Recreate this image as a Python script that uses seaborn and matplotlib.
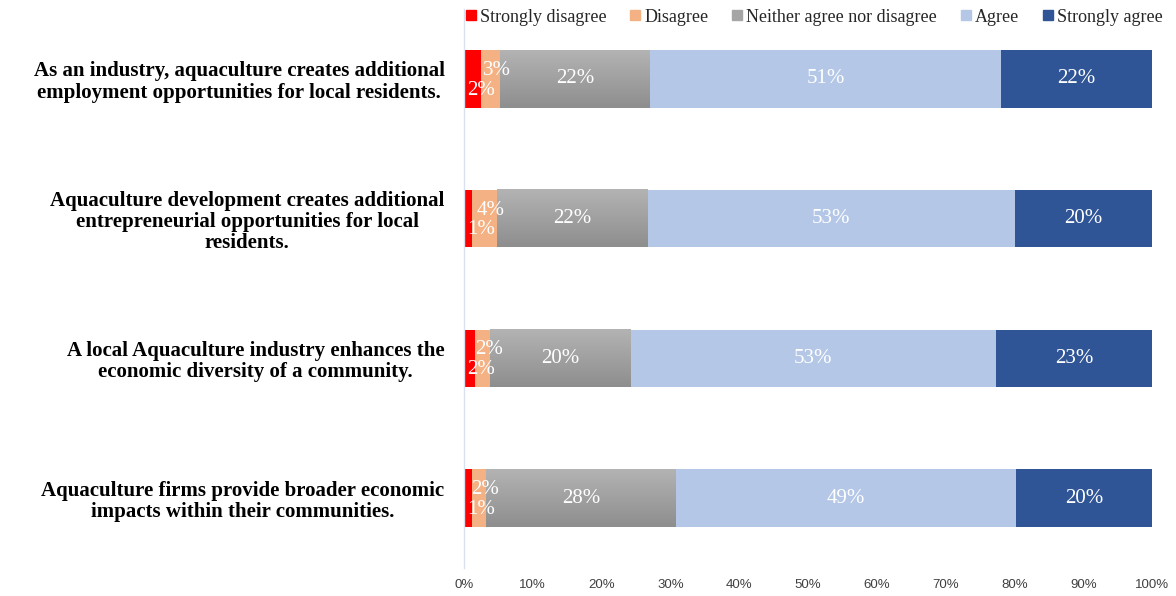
import numpy as np
import pandas as pd
import seaborn as sns
import matplotlib.pyplot as plt
from matplotlib.colors import LinearSegmentedColormap
from matplotlib.lines import Line2D

statements = [
    "As an industry, aquaculture creates additional\nemployment opportunities for local residents.",
    "Aquaculture development creates additional\nentrepreneurial opportunities for local\nresidents.",
    "A local Aquaculture industry enhances the\neconomic diversity of a community.",
    "Aquaculture firms provide broader economic\nimpacts within their communities.",
]
levels = ["Strongly disagree", "Disagree", "Neither agree nor disagree", "Agree", "Strongly agree"]

strongly_disagree = [2.4, 1.2, 1.6, 1.2]
disagree = [2.9, 3.6, 2.2, 2.0]
neither = [21.8, 21.9, 20.4, 27.6]
agree = [51.0, 53.4, 53.1, 49.4]
strongly_agree = [21.9, 19.9, 22.7, 19.8]

x_ticks = [0, 10, 20, 30, 40, 50, 60, 70, 80, 90, 100]

colors = ["#FF0000", "#F4B183", "#A5A5A5", "#B4C7E7", "#2F5597"]

values = np.array([strongly_disagree, disagree, neither, agree, strongly_agree]).T
cum = np.cumsum(values, axis=1)
starts = cum - values

sns.set_theme(style="white")
plt.rcParams["font.family"] = ["Liberation Serif", "DejaVu Serif"]

fig = plt.figure(figsize=(11.76, 5.96), dpi=100)
ax = fig.add_axes([464 / 1176, 1 - 568 / 596, (1152 - 464) / 1176, (568 - 9) / 596])

bar_w = 0.41
gray_patches = []
# Stacked bars: draw running totals from the widest down so each level shows its own segment
for i in reversed(range(5)):
    n0 = len(ax.patches)
    df = pd.DataFrame({"statement": statements, "total": cum[:, i]})
    sns.barplot(data=df, x="total", y="statement", color=colors[i], orient="h",
                width=bar_w, saturation=1, ax=ax, linewidth=0)
    if i == 2:
        gray_patches = ax.patches[n0:]

# Vertical shading on the neutral segment
shade = LinearSegmentedColormap.from_list("shade", ["#B3B3B3", "#8E8E8E"])
grad = np.linspace(0, 1, 64).reshape(-1, 1)
for k, p in enumerate(gray_patches):
    yc = p.get_y() + p.get_height() / 2
    ax.imshow(grad, cmap=shade, aspect="auto", origin="upper",
              extent=(starts[k, 2], cum[k, 2], yc + bar_w / 2, yc - bar_w / 2),
              zorder=p.get_zorder() + 0.05, interpolation="bilinear")

ax.set_xlim(0, 100)
ax.set_ylim(len(statements) - 0.5, -0.5)

# Value labels
lab_kw = dict(color="white", fontsize=15, va="center")
for k in range(len(statements)):
    for i in range(5):
        v = values[k, i]
        txt = f"{round(v):.0f}%"
        if i == 0:
            ax.text(0.4, k + 0.08, txt, ha="left", zorder=10, **lab_kw)
        elif i == 1:
            ax.text(starts[k, 1] + v / 2 + 0.9, k - 0.06, txt, ha="center", zorder=10, **lab_kw)
        else:
            ax.text(starts[k, i] + v / 2, k, txt, ha="center", zorder=10, **lab_kw)

ax.set_xticks(x_ticks)
ax.set_xticklabels([f"{t}%" for t in x_ticks], family="Liberation Sans", fontsize=9.5, color="#404040")
ax.set_yticks(range(len(statements)))
ax.set_yticklabels(statements, fontsize=15, fontweight="bold", color="black",
                   multialignment="center", linespacing=1.08)
ax.tick_params(axis="y", length=0, pad=14)
ax.tick_params(axis="x", length=0, pad=8)
ax.set_xlabel("")
ax.set_ylabel("")
for s in ["top", "right", "bottom"]:
    ax.spines[s].set_visible(False)
ax.spines["left"].set_color("#D9E1F0")
ax.spines["left"].set_linewidth(1)
ax.grid(False)

handles = [Line2D([], [], marker="s", linestyle="none", markersize=7,
                  markerfacecolor=c, markeredgecolor=c) for c in colors]
fig.legend(handles, levels, loc="center right", bbox_to_anchor=(0.995, 1 - 17 / 596),
           ncol=5, frameon=False, fontsize=13, handletextpad=0.05, columnspacing=1.15,
           handlelength=0.9, borderaxespad=0)

fig.savefig("out.png", dpi=100)
